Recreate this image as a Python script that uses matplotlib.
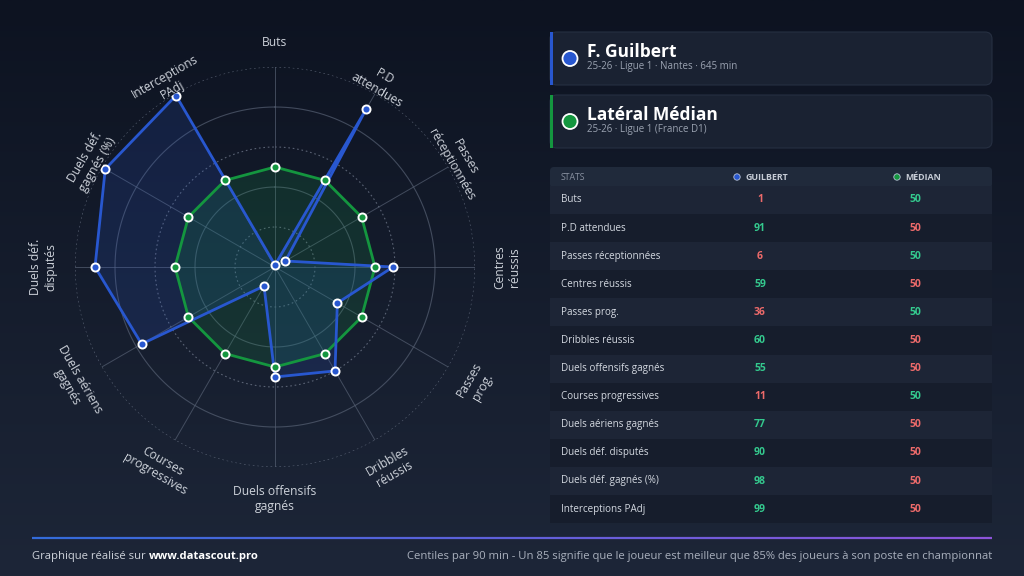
import numpy as np
import matplotlib
matplotlib.use("Agg")
import matplotlib.pyplot as plt
from matplotlib.patches import FancyBboxPatch, Circle, Rectangle
from matplotlib.collections import LineCollection

plt.rcParams['font.family'] = ['Open Sans', 'DejaVu Sans']

# ---------------- data ----------------
radar_labels = ["Buts", "P.D\nattendues", "Passes\nréceptionnées", "Centres\nréussis",
                "Passes\nprog.", "Dribbles\nréussis", "Duels offensifs\ngagnés",
                "Courses\nprogressives", "Duels aériens\ngagnés", "Duels déf.\ndisputés",
                "Duels déf.\ngagnés (%)", "Interceptions\nPAdj"]
table_labels = ["Buts", "P.D attendues", "Passes réceptionnées", "Centres réussis",
                "Passes prog.", "Dribbles réussis", "Duels offensifs gagnés",
                "Courses progressives", "Duels aériens gagnés", "Duels déf. disputés",
                "Duels déf. gagnés (%)", "Interceptions PAdj"]
guilbert = [1, 91, 6, 59, 36, 60, 55, 11, 77, 90, 98, 99]
median = [50, 50, 50, 50, 50, 50, 50, 50, 50, 50, 50, 50]
grid_levels = [20, 40, 60, 80, 100]

player_name = "F. Guilbert"
player_sub = "25-26 · Ligue 1 · Nantes · 645 min"
median_name = "Latéral Médian"
median_sub = "25-26 · Ligue 1 (France D1)"
footer_left = "Graphique réalisé sur "
footer_link = "www.datascout.pro"
footer_right = "Centiles par 90 min - Un 85 signifie que le joueur est meilleur que 85% des joueurs à son poste en championnat"

# ---------------- colours ----------------
BLUE = "#2857cf"
GREEN = "#14963f"
VAL_GREEN = "#34c98e"
VAL_RED = "#ec6a6a"
TXT = "#d3d8e0"
SUB = "#9aa2b1"
CARD = "#1a2232"
CARD_EDGE = "#262f41"
ROW_A = "#1d2536"
ROW_B = "#161d2c"
GRID = "#566073"

W, H = 1024, 576
fig = plt.figure(figsize=(W / 100, H / 100), dpi=100)

# background axes in pixel coordinates
bg = fig.add_axes([0, 0, 1, 1])
bg.set_xlim(0, W)
bg.set_ylim(H, 0)
bg.axis("off")
grad = np.linspace(0, 1, 256).reshape(-1, 1)
top = np.array([13, 19, 33]) / 255
bot = np.array([29, 38, 56]) / 255
img = top + (bot - top) * grad[..., None]
img = np.repeat(img, 2, axis=1)
bg.imshow(img, extent=[0, W, H, 0], aspect="auto", zorder=0)

# ---------------- cards ----------------
def card(y0, y1, accent, title, sub):
    bg.add_patch(FancyBboxPatch((550, y0), 442, y1 - y0,
                                boxstyle="round,pad=0,rounding_size=7",
                                fc=CARD, ec=CARD_EDGE, lw=0.8, zorder=2))
    bg.add_patch(Rectangle((550, y0), 3, y1 - y0, fc=accent, ec="none", zorder=3))
    cy = (y0 + y1) / 2
    bg.add_patch(Circle((570, cy), 7.5, fc=accent, ec="white", lw=1.3, zorder=3))
    bg.text(587, cy - 6.5, title, color="white", fontsize=12.5, fontweight="bold",
            ha="left", va="center", zorder=4)
    bg.text(587, cy + 8, sub, color=SUB, fontsize=7, ha="left", va="center", zorder=4)

card(32, 85, BLUE, player_name, player_sub)
card(95, 148, GREEN, median_name, median_sub)

# ---------------- table ----------------
bg.add_patch(FancyBboxPatch((550, 167), 442, 21, boxstyle="round,pad=0,rounding_size=4",
                            fc="#202a3b", ec="none", zorder=2))
bg.text(561, 177, "STATS", color="#8a92a2", fontsize=6.3, ha="left", va="center", zorder=4)
bg.add_patch(Circle((737, 177), 3.2, fc=BLUE, ec="#b9c3d6", lw=0.6, zorder=4))
bg.text(745, 177.5, "GUILBERT", color="#c6ccd6", fontsize=6.4, fontweight="bold",
        ha="left", va="center", zorder=4)
bg.add_patch(Circle((897, 177), 3.2, fc=GREEN, ec="#b9c3d6", lw=0.6, zorder=4))
bg.text(905, 177.5, "MÉDIAN", color="#c6ccd6", fontsize=6.4, fontweight="bold",
        ha="left", va="center", zorder=4)

row_h = 28.1
for i, (lab, g, m) in enumerate(zip(table_labels, guilbert, median)):
    cy = 200 + i * row_h
    bg.add_patch(Rectangle((550, cy - row_h / 2), 442, row_h,
                           fc=ROW_A if i % 2 == 0 else ROW_B, ec="none", zorder=2))
    bg.text(561, cy, lab, color=TXT, fontsize=7.1, ha="left", va="center", zorder=4)
    gc, mc = (VAL_GREEN, VAL_RED) if g > m else (VAL_RED, VAL_GREEN)
    bg.text(760, cy, str(g), color=gc, fontsize=7.5, fontweight="bold",
            ha="center", va="center", zorder=4)
    bg.text(915, cy, str(m), color=mc, fontsize=7.5, fontweight="bold",
            ha="center", va="center", zorder=4)

# ---------------- footer ----------------
xs = np.linspace(32, 992, 200)
segs = [[(xs[k], 538), (xs[k + 1], 538)] for k in range(len(xs) - 1)]
c0 = np.array([0.20, 0.42, 0.85])
c1 = np.array([0.55, 0.33, 0.85])
cols = [tuple(c0 + (c1 - c0) * t) for t in np.linspace(0, 1, len(segs))]
bg.add_collection(LineCollection(segs, colors=cols, linewidths=1.6, zorder=3))

t1 = bg.text(32, 556, footer_left, color="#cdd2da", fontsize=8.1, ha="left", va="center")
fig.canvas.draw()
r = fig.canvas.get_renderer()
bb = t1.get_window_extent(renderer=r)
x_end = bb.x1
bg.text(x_end, 556, footer_link, color="white", fontsize=8.1, fontweight="bold",
        ha="left", va="center")
bg.text(992, 556, footer_right, color="#a9b0bd", fontsize=8.1, ha="right", va="center")

# ---------------- radar ----------------
cx, cy0, R = 275, 267, 200
ax = fig.add_axes([(cx - R) / W, (H - (cy0 + R)) / H, 2 * R / W, 2 * R / H],
                  projection="polar")
ax.set_facecolor("none")
ax.set_theta_zero_location("N")
ax.set_theta_direction(-1)
ax.set_ylim(0, 100)
ax.set_xticks([])
ax.set_yticks([])
ax.grid(False)
ax.spines["polar"].set_visible(False)

n = len(radar_labels)
angles = np.arange(n) * 2 * np.pi / n
circ = np.linspace(0, 2 * np.pi, 361)
for k, lv in enumerate(grid_levels):
    dotted = (k % 2 == 0)
    ax.plot(circ, np.full_like(circ, lv), color=GRID if not dotted else "#6a7385",
            lw=0.8, ls=(0, (1.5, 2.5)) if dotted else "-", alpha=0.8 if dotted else 0.7,
            zorder=1)
for a in angles:
    ax.plot([a, a], [0, 100], color=GRID, lw=0.7, alpha=0.7, zorder=1)

ang_c = np.concatenate([angles, angles[:1]])
med_c = np.concatenate([median, median[:1]])
gui_c = np.concatenate([guilbert, guilbert[:1]])
ax.fill(ang_c, gui_c, color="#2b5bd8", alpha=0.16, zorder=2, lw=0)
ax.fill(ang_c, med_c, color="#16a34a", alpha=0.16, zorder=2, lw=0)
ax.plot(ang_c, med_c, color=GREEN, lw=2, zorder=3)
ax.plot(ang_c, gui_c, color=BLUE, lw=2, zorder=4)
ax.plot(angles, median, ls="none", marker="o", ms=5.8, mfc=GREEN, mec="white", mew=1.4, zorder=5)
ax.plot(angles, guilbert, ls="none", marker="o", ms=5.8, mfc=BLUE, mec="white", mew=1.4, zorder=6)

for a, lab in zip(angles, radar_labels):
    deg = np.degrees(a)
    if deg < 90:
        rot = -deg
    elif deg < 270:
        rot = 180 - deg
    else:
        rot = 360 - deg
    if deg == 0:
        rr = 112
    elif deg < 90 or deg > 270:
        rr = 106
    else:
        rr = 116
    ax.text(a, rr, lab, rotation=rot, rotation_mode="anchor", ha="center", va="center",
            color="#cdd2da", fontsize=8.7, linespacing=1.2, multialignment="center")

fig.savefig("out.png", dpi=100, facecolor=fig.get_facecolor())
